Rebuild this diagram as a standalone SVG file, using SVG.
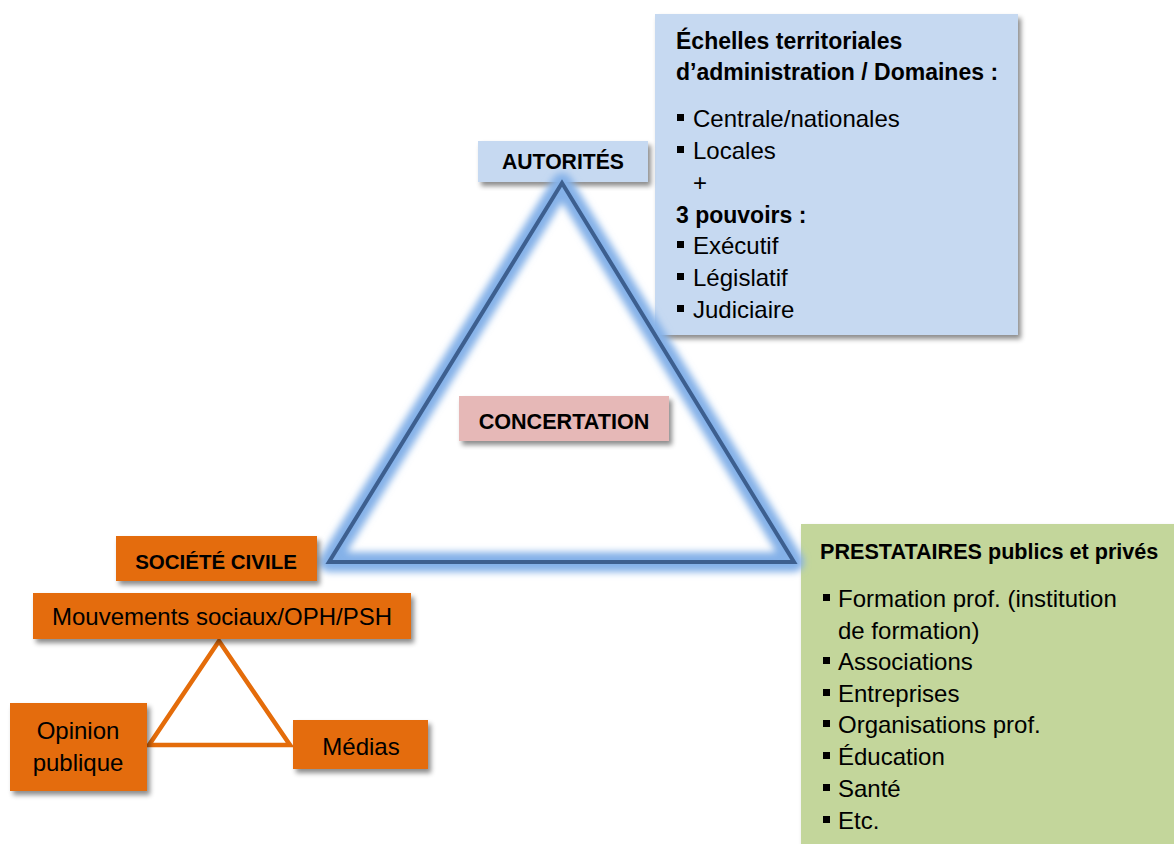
<svg xmlns="http://www.w3.org/2000/svg" width="1174" height="844" viewBox="0 0 1174 844">
<defs>
<filter id="sh" x="-10%" y="-10%" width="125%" height="130%">
<feDropShadow dx="3" dy="4" stdDeviation="2.5" flood-color="#000" flood-opacity="0.45"/>
</filter>
<filter id="glow" x="-10%" y="-10%" width="120%" height="120%">
<feGaussianBlur stdDeviation="3.5"/>
</filter>
<style>
text{font-family:"Liberation Sans",Arial,sans-serif;fill:#000}
.b{font-weight:bold}
.t{font-size:23px}
.r{font-size:24px}
.bu{fill:#000}
.blue{fill:#C6D9F1}
.orange{fill:#E46C0A}
.green{fill:#C3D69B}
.pink{fill:#E6B8B7}
</style>
</defs>
<rect width="1174" height="844" fill="#fff"/>

<g id="autorites-details">
<rect class="blue" x="655" y="14" width="363" height="321" filter="url(#sh)"/>
<text class="t b" x="676" y="49">Échelles territoriales</text>
<text class="t b" x="676" y="80">d’administration / Domaines :</text>
<rect class="bu" x="677" y="114" width="7" height="7"/><text class="r" x="693" y="127">Centrale/nationales</text>
<rect class="bu" x="677" y="146" width="7" height="7"/><text class="r" x="693" y="159">Locales</text>
<text class="r" x="693" y="191">+</text>
<text class="t b" x="676" y="223">3 pouvoirs :</text>
<rect class="bu" x="677" y="241" width="7" height="7"/><text class="r" x="693" y="254">Exécutif</text>
<rect class="bu" x="677" y="273" width="7" height="7"/><text class="r" x="693" y="286">Législatif</text>
<rect class="bu" x="677" y="305" width="7" height="7"/><text class="r" x="693" y="318">Judiciaire</text>
</g>

<g id="autorites">
<rect class="blue" x="478" y="141" width="170" height="41" filter="url(#sh)"/>
<text class="b" x="563" y="169" text-anchor="middle" style="font-size:21.2px">AUTORITÉS</text>
</g>

<g id="prestataires">
<rect class="green" x="801" y="524" width="380" height="330" filter="url(#sh)"/>
<text class="b" x="820" y="559" style="font-size:21.6px">PRESTATAIRES publics et privés</text>
<rect class="bu" x="823" y="594" width="7" height="7"/><text class="r" x="838" y="607">Formation prof. (institution</text>
<text class="r" x="838" y="639">de formation)</text>
<rect class="bu" x="823" y="657" width="7" height="7"/><text class="r" x="838" y="670">Associations</text>
<rect class="bu" x="823" y="689" width="7" height="7"/><text class="r" x="838" y="702">Entreprises</text>
<rect class="bu" x="823" y="720" width="7" height="7"/><text class="r" x="838" y="733">Organisations prof.</text>
<rect class="bu" x="823" y="752" width="7" height="7"/><text class="r" x="838" y="765">Éducation</text>
<rect class="bu" x="823" y="784" width="7" height="7"/><text class="r" x="838" y="797">Santé</text>
<rect class="bu" x="823" y="816" width="7" height="7"/><text class="r" x="838" y="829">Etc.</text>
</g>

<g id="connectors">
<polygon points="562,183 329,562 794,562" fill="none" stroke="#84B1E8" stroke-width="20" stroke-linejoin="round" filter="url(#glow)"/>
<polygon points="562,183 329,562 794,562" fill="none" stroke="#3D5F8F" stroke-width="4" stroke-linejoin="miter"/>
<polygon points="219,641 149,745 290,745" fill="none" stroke="#E46C0A" stroke-width="4.5"/>
</g>

<g id="concertation">
<rect class="pink" x="459" y="396" width="210" height="45" filter="url(#sh)"/>
<text class="b" x="564" y="429" text-anchor="middle" style="font-size:21.6px">CONCERTATION</text>
</g>

<g id="societe-civile">
<rect class="orange" x="116" y="536" width="201" height="45" filter="url(#sh)"/>
<text class="b" x="216" y="569" text-anchor="middle" style="font-size:20.5px">SOCIÉTÉ CIVILE</text>
</g>

<g id="mouvements">
<rect class="orange" x="33" y="593" width="378" height="46" filter="url(#sh)"/>
<text class="r" x="222" y="625" text-anchor="middle">Mouvements sociaux/OPH/PSH</text>
</g>

<g id="opinion">
<rect class="orange" x="10" y="703" width="137" height="88" filter="url(#sh)"/>
<text class="r" x="78" y="739" text-anchor="middle">Opinion</text>
<text class="r" x="78" y="771" text-anchor="middle">publique</text>
</g>

<g id="medias">
<rect class="orange" x="293" y="720" width="135" height="49" filter="url(#sh)"/>
<text class="r" x="361" y="755" text-anchor="middle">Médias</text>
</g>
</svg>
